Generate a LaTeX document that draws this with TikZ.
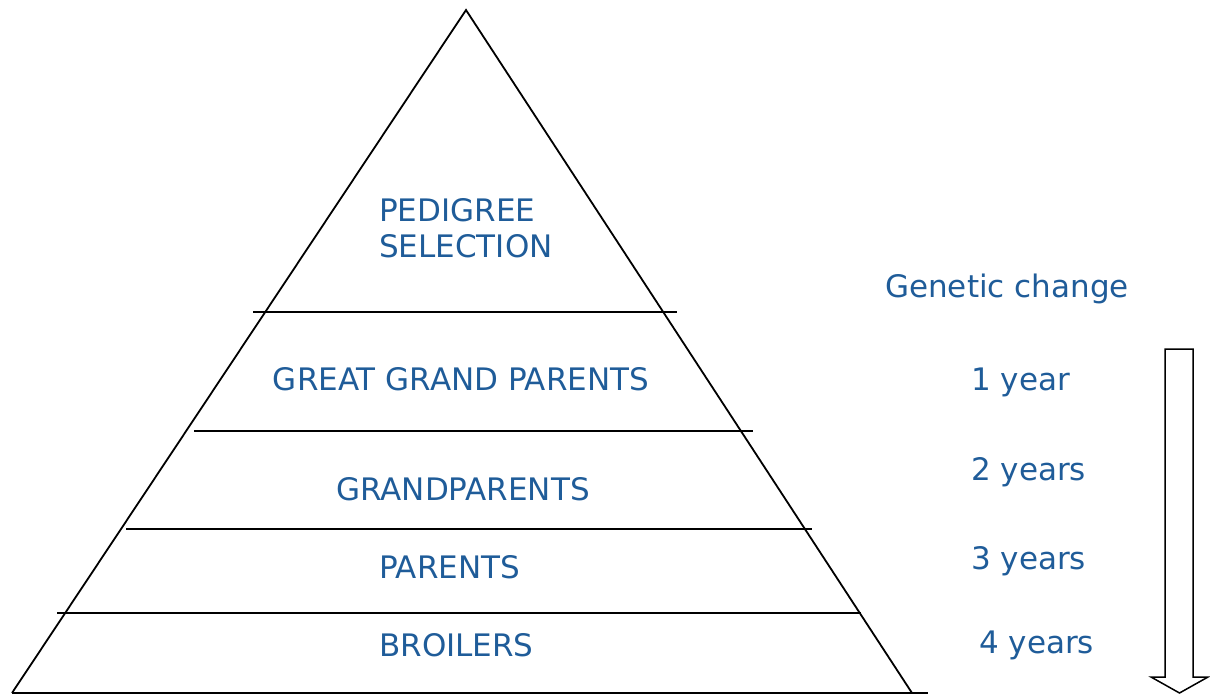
\documentclass[tikz,border=0pt]{standalone}
\usepackage{fontspec}
\setmainfont{DejaVu Sans}
\definecolor{labelblue}{HTML}{1F5C99}

\begin{document}
\begin{tikzpicture}[x=1pt,y=-1pt,
  level/.style={font=\fontsize{31}{36}\selectfont,text=labelblue,inner sep=0pt},
  edge/.style={line width=1.8pt,black}]
\useasboundingbox (0,0) rectangle (1210,695);
% pyramid
\coordinate (apex) at (466,10);
\coordinate (baseL) at (12,693);
\coordinate (baseR) at (912,693);
\draw[edge,line join=miter] (baseL) -- (apex) -- (baseR);
\draw[edge] (baseL) -- (928,693);
\draw[edge] (253,312) -- (677,312);
\draw[edge] (194,431) -- (753,431);
\draw[edge] (126,529) -- (812,529);
\draw[edge] (57,613) -- (861,613);
% levels
\node[level,anchor=west,align=left] (pedigree) at (379,228) {PEDIGREE\\SELECTION};
\node[level] (ggp) at (461,379) {GREAT GRAND PARENTS};
\node[level] (gp) at (463,489) {GRANDPARENTS};
\node[level,anchor=west] (parents) at (379,567) {PARENTS};
\node[level,anchor=west] (broilers) at (379,645) {BROILERS};
% genetic change
\node[level] (change) at (1007,289) {Genetic change};
\node[level,anchor=west] (yr1) at (971,382) {1 year};
\node[level,anchor=west] (yr2) at (971,472) {2 years};
\node[level,anchor=west] (yr3) at (971,561) {3 years};
\node[level,anchor=west] (yr4) at (979,645) {4 years};
% arrow
\draw[edge,line width=1.5pt,line join=miter] (1165,349) -- (1193,349) -- (1193,677) -- (1208,677)
  -- (1179.5,693) -- (1151,677) -- (1165,677) -- cycle;
\end{tikzpicture}
\end{document}
